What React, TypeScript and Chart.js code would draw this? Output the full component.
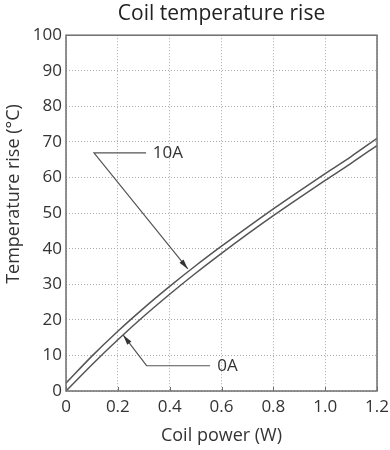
import React, { useEffect, useRef } from "react";
import { Chart, registerables } from "chart.js";

Chart.register(...registerables);

const powerW = [0, 0.1, 0.2, 0.3, 0.4, 0.5, 0.6, 0.7, 0.8, 0.9, 1.0, 1.1, 1.2];
const rise0A = [0, 7.4, 14.4, 21.0, 27.2, 33.1, 38.7, 44.1, 49.3, 54.3, 59.2, 64.0, 69.0];
const rise10A = [2.2, 9.8, 16.8, 23.3, 29.4, 35.2, 40.7, 46.0, 51.2, 56.2, 61.1, 65.9, 71.0];
const xTickValues = [0, 0.2, 0.4, 0.6, 0.8, 1.0, 1.2];
const xTickLabels = ["0", "0.2", "0.4", "0.6", "0.8", "1.0", "1.2"];
const yTickValues = [0, 10, 20, 30, 40, 50, 60, 70, 80, 90, 100];
const chartTitle = "Coil temperature rise";
const xTitle = "Coil power (W)";
const yTitle = "Temperature rise (°C)";

// callouts in data coordinates: text anchor, end of horizontal leader, elbow, arrow tip
const callouts = [
  { label: "10A", textAt: [0.335, 66.9], lineEnd: [0.309, 66.9], elbow: [0.108, 66.9], tip: [0.47, 34.3] },
  { label: "0A", textAt: [0.584, 7.1], lineEnd: [0.556, 7.1], elbow: [0.311, 7.1], tip: [0.221, 15.7] },
];

const FONT = "'Open Sans', 'DejaVu Sans', sans-serif";

const overlayPlugin = {
  id: "overlay",
  afterDatasetsDraw(chart: any) {
    const { ctx, chartArea, scales } = chart;
    const xs = scales.x;
    const ys = scales.y;
    ctx.save();
    // box border
    ctx.strokeStyle = "#6e6e6e";
    ctx.lineWidth = 1.5;
    ctx.setLineDash([]);
    ctx.strokeRect(chartArea.left, chartArea.top, chartArea.right - chartArea.left, chartArea.bottom - chartArea.top);
    // inner ticks on x axis
    ctx.lineWidth = 1;
    xTickValues.forEach((v) => {
      const px = Math.round(xs.getPixelForValue(v)) + 0.5;
      ctx.beginPath();
      ctx.moveTo(px, chartArea.bottom);
      ctx.lineTo(px, chartArea.bottom - 4);
      ctx.stroke();
    });
    // callouts
    callouts.forEach((c) => {
      const ex = xs.getPixelForValue(c.elbow[0]);
      const ey = ys.getPixelForValue(c.elbow[1]);
      const lx = xs.getPixelForValue(c.lineEnd[0]);
      const ly = ys.getPixelForValue(c.lineEnd[1]);
      const tx = xs.getPixelForValue(c.tip[0]);
      const ty = ys.getPixelForValue(c.tip[1]);
      ctx.strokeStyle = "#555";
      ctx.lineWidth = 1.2;
      ctx.beginPath();
      ctx.moveTo(lx, ly);
      ctx.lineTo(ex, ey);
      ctx.lineTo(tx, ty);
      ctx.stroke();
      const ang = Math.atan2(ty - ey, tx - ex);
      const len = 10;
      const hw = 2.6;
      const bx = tx - Math.cos(ang) * len;
      const by = ty - Math.sin(ang) * len;
      ctx.fillStyle = "#333";
      ctx.beginPath();
      ctx.moveTo(tx, ty);
      ctx.lineTo(bx + Math.sin(ang) * hw, by - Math.cos(ang) * hw);
      ctx.lineTo(bx - Math.sin(ang) * hw, by + Math.cos(ang) * hw);
      ctx.closePath();
      ctx.fill();
      ctx.fillStyle = "#333";
      ctx.font = `17px ${FONT}`;
      ctx.textAlign = "left";
      ctx.textBaseline = "middle";
      ctx.fillText(c.label, xs.getPixelForValue(c.textAt[0]), ys.getPixelForValue(c.textAt[1]));
    });
    // y axis title
    ctx.save();
    ctx.translate(14, 194);
    ctx.rotate(-Math.PI / 2);
    ctx.font = `18px ${FONT}`;
    ctx.fillStyle = "#333";
    ctx.textAlign = "center";
    ctx.textBaseline = "middle";
    ctx.fillText(yTitle, 0, 0);
    ctx.restore();
    ctx.restore();
  },
};

export default function App() {
  const ref = useRef<HTMLCanvasElement | null>(null);
  useEffect(() => {
    document.body.style.margin = "0";
    const canvas = ref.current;
    if (!canvas) return;
    const chart = new Chart(canvas, {
      type: "line",
      data: {
        datasets: [
          {
            label: "10A",
            data: powerW.map((x, i) => ({ x, y: rise10A[i] })),
            borderColor: "#555",
            borderWidth: 1.5,
            pointRadius: 0,
            cubicInterpolationMode: "monotone",
            fill: false,
          },
          {
            label: "0A",
            data: powerW.map((x, i) => ({ x, y: rise0A[i] })),
            borderColor: "#555",
            borderWidth: 1.5,
            pointRadius: 0,
            cubicInterpolationMode: "monotone",
            fill: false,
          },
        ],
      },
      options: {
        responsive: false,
        animation: false,
        events: [],
        layout: { padding: { top: 0, left: 0, right: 13, bottom: 0 } },
        plugins: {
          legend: { display: false },
          tooltip: { enabled: false },
          title: {
            display: true,
            text: chartTitle,
            fullSize: false,
            color: "#222",
            font: { family: FONT, size: 21, weight: "normal" },
            padding: { top: 1, bottom: 9 },
          },
        },
        scales: {
          x: {
            type: "linear",
            min: 0,
            max: 1.2,
            afterBuildTicks: (scale: any) => {
              scale.ticks = xTickValues.map((v) => ({ value: v }));
            },
            afterFit: (scale: any) => {
              scale.height = 59;
              scale.paddingLeft = 0;
              scale.paddingRight = 0;
            },
            grid: { color: "#aaa", lineWidth: 1, drawTicks: false },
            border: { display: false, dash: [1, 2] },
            ticks: {
              padding: 6,
              color: "#333",
              maxRotation: 0,
              font: { family: FONT, size: 17 },
              callback: (v: any) => {
                const i = xTickValues.findIndex((t) => Math.abs(t - Number(v)) < 1e-9);
                return i >= 0 ? xTickLabels[i] : "";
              },
            },
            title: {
              display: true,
              text: xTitle,
              color: "#333",
              font: { family: FONT, size: 18 },
              padding: { top: 0, bottom: 3 },
            },
          },
          y: {
            type: "linear",
            min: 0,
            max: 100,
            afterBuildTicks: (scale: any) => {
              scale.ticks = yTickValues.map((v) => ({ value: v }));
            },
            afterFit: (scale: any) => {
              scale.width = 66;
              scale.paddingTop = 0;
              scale.paddingBottom = 0;
            },
            grid: { color: "#aaa", lineWidth: 1, drawTicks: false },
            border: { display: false, dash: [1, 2] },
            ticks: {
              padding: 4,
              color: "#333",
              font: { family: FONT, size: 17 },
            },
          },
        },
      },
      plugins: [overlayPlugin],
    } as any);
    return () => chart.destroy();
  }, []);
  return <canvas ref={ref} width={390} height={450} style={{ display: "block" }} />;
}
